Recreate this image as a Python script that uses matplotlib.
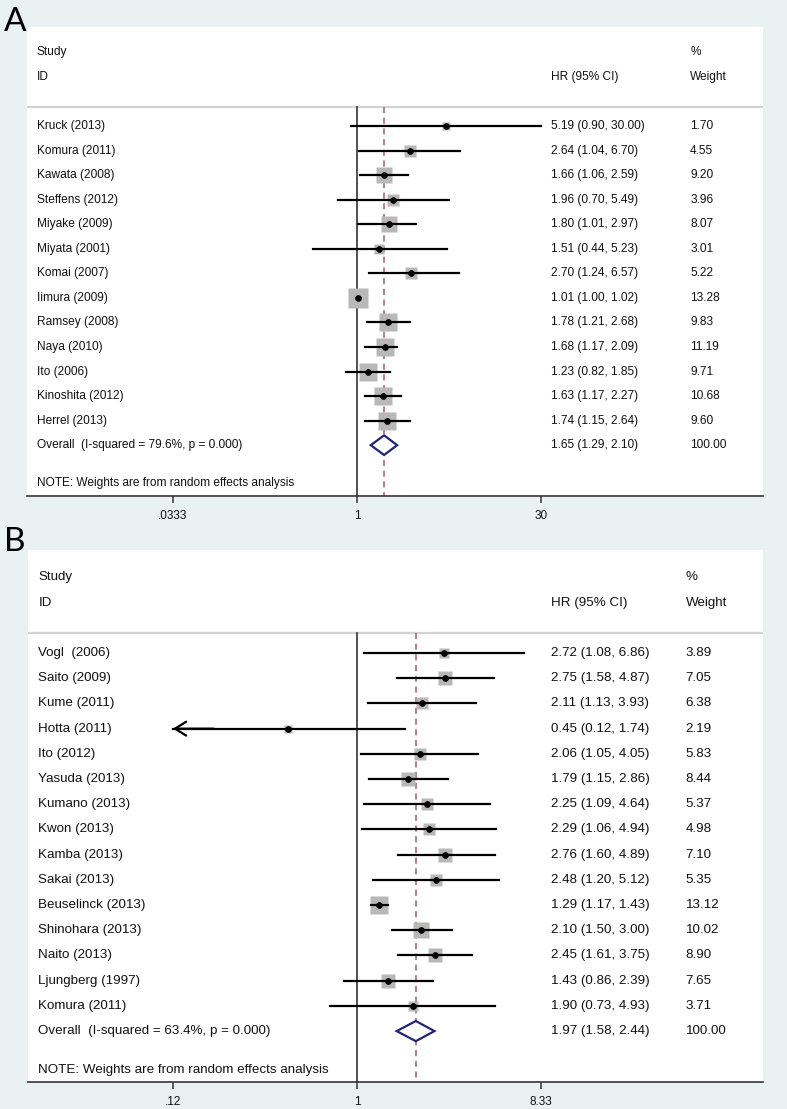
#!/usr/bin/env python3
"""Two stacked forest plots (HR with 95% CI, random effects weights)."""

import numpy as np
import matplotlib
matplotlib.use("Agg")
import matplotlib.pyplot as plt
from matplotlib.patches import Polygon
from matplotlib.transforms import blended_transform_factory

plt.rcParams['font.family'] = ['Liberation Sans', 'DejaVu Sans']

# ---- panel A data ----
studies_a = ["Kruck (2013)", "Komura (2011)", "Kawata (2008)", "Steffens (2012)",
             "Miyake (2009)", "Miyata (2001)", "Komai (2007)", "Iimura (2009)",
             "Ramsey (2008)", "Naya (2010)", "Ito (2006)", "Kinoshita (2012)",
             "Herrel (2013)"]
hr_a = [5.19, 2.64, 1.66, 1.96, 1.80, 1.51, 2.70, 1.01, 1.78, 1.68, 1.23, 1.63, 1.74]
lo_a = [0.90, 1.04, 1.06, 0.70, 1.01, 0.44, 1.24, 1.00, 1.21, 1.17, 0.82, 1.17, 1.15]
hi_a = [30.00, 6.70, 2.59, 5.49, 2.97, 5.23, 6.57, 1.02, 2.68, 2.09, 1.85, 2.27, 2.64]
w_a = [1.70, 4.55, 9.20, 3.96, 8.07, 3.01, 5.22, 13.28, 9.83, 11.19, 9.71, 10.68, 9.60]
overall_a = (1.65, 1.29, 2.10)
isq_a = "79.6%"
ticks_a = [1 / 30, 1, 30]
ticklabels_a = [".0333", "1", "30"]

# ---- panel B data ----
studies_b = ["Vogl  (2006)", "Saito (2009)", "Kume (2011)", "Hotta (2011)", "Ito (2012)",
             "Yasuda (2013)", "Kumano (2013)", "Kwon (2013)", "Kamba (2013)",
             "Sakai (2013)", "Beuselinck (2013)", "Shinohara (2013)", "Naito (2013)",
             "Ljungberg (1997)", "Komura (2011)"]
hr_b = [2.72, 2.75, 2.11, 0.45, 2.06, 1.79, 2.25, 2.29, 2.76, 2.48, 1.29, 2.10, 2.45, 1.43, 1.90]
lo_b = [1.08, 1.58, 1.13, 0.12, 1.05, 1.15, 1.09, 1.06, 1.60, 1.20, 1.17, 1.50, 1.61, 0.86, 0.73]
hi_b = [6.86, 4.87, 3.93, 1.74, 4.05, 2.86, 4.64, 4.94, 4.89, 5.12, 1.43, 3.00, 3.75, 2.39, 4.93]
w_b = [3.89, 7.05, 6.38, 2.19, 5.83, 8.44, 5.37, 4.98, 7.10, 5.35, 13.12, 10.02, 8.90, 7.65, 3.71]
overall_b = (1.97, 1.58, 2.44)
isq_b = "63.4%"
ticks_b = [0.12, 1, 8.33]
ticklabels_b = [".12", "1", "8.33"]

BG = '#e9f1f3'
TXT = '#111111'
W, H = 787, 1109


def forest(fig, box, ylim, studies, hr, lo, hi, w, overall, isq, ticks, ticklabels,
           fs, cols, box_scale):
    x0, y0, x1, y1 = box  # pixels, top-left origin
    ax = fig.add_axes([x0 / W, 1 - y1 / H, (x1 - x0) / W, (y1 - y0) / H])
    ax.set_facecolor('white')
    for s in ['top', 'left', 'right']:
        ax.spines[s].set_visible(False)
    ax.spines['bottom'].set_color('#333333')
    ax.spines['bottom'].set_linewidth(1.2)

    # log scale with 1 at x=357 px and the last tick at x=541 px
    ax.set_xscale('log')
    lr = np.log10(ticks[-1])
    ax.set_xlim(10 ** (-(357 - x0) / 184 * lr), 10 ** ((x1 - 357) / 184 * lr))
    ax.set_ylim(*ylim)
    ax.set_xticks(ticks)
    ax.set_xticklabels(ticklabels)
    ax.minorticks_off()
    ax.tick_params(axis='x', direction='out', length=5, width=1.1, color='#333333',
                   labelsize=8.5, pad=5, labelcolor=TXT)
    ax.set_yticks([])

    n = len(studies)
    rows = np.arange(n)
    row_ov = n
    row_note = n + 1.55
    sep = -0.78
    bottom = ylim[0]

    trans = blended_transform_factory(ax.transAxes, ax.transData)

    def put(x, y, s):
        ax.text(x, y, s, transform=trans, fontsize=fs, color=TXT, va='center')

    # header
    put(cols[0], -3, "Study")
    put(cols[0], -2, "ID")
    put(cols[1], -2, "HR (95% CI)")
    put(cols[2], -3, "%")
    put(cols[2], -2, "Weight")
    ax.axhline(sep, color='#d2d2d2', lw=1.6)

    # null line and overall dashed line
    ax.plot([1, 1], [sep, bottom], color='#333333', lw=1.2, zorder=2)
    ax.plot([overall[0]] * 2, [sep, bottom], color='#a65a63', lw=1.1,
            ls=(0, (4, 3)), zorder=2)

    xmin_tick = ticks[0]
    for i in rows:
        ax.plot(hr[i], i, marker='s', ms=box_scale * np.sqrt(w[i]), color='#b8b8b8',
                mec='none', zorder=3)
        if lo[i] <= xmin_tick:
            # CI runs past the axis range: clip it and draw an arrow head
            ax.plot([xmin_tick, hi[i]], [i, i], color='black', lw=1.6, zorder=4)
            ax.annotate('', xy=(xmin_tick, i), xytext=(xmin_tick * 1.6, i),
                        arrowprops=dict(arrowstyle='->,head_length=0.4,head_width=0.25',
                                        lw=1.6, color='black', shrinkA=0, shrinkB=0,
                                        mutation_scale=20), zorder=4)
        else:
            ax.plot([lo[i], hi[i]], [i, i], color='black', lw=1.6, zorder=4)
        ax.plot(hr[i], i, marker='o', ms=3.8, color='black', zorder=5)
        put(cols[0], i, studies[i])
        put(cols[1], i, f"{hr[i]:.2f} ({lo[i]:.2f}, {hi[i]:.2f})")
        put(cols[2], i, f"{w[i]:.2f}")

    # overall diamond
    est, olo, ohi = overall
    h = 0.4
    ax.add_patch(Polygon([(olo, row_ov), (est, row_ov - h), (ohi, row_ov), (est, row_ov + h)],
                         closed=True, facecolor='white', edgecolor='#1f2677', lw=1.6,
                         zorder=5))
    put(cols[0], row_ov, f"Overall  (I-squared = {isq}, p = 0.000)")
    put(cols[1], row_ov, f"{est:.2f} ({olo:.2f}, {ohi:.2f})")
    put(cols[2], row_ov, "100.00")
    put(cols[0], row_note, "NOTE: Weights are from random effects analysis")
    return ax


fig = plt.figure(figsize=(W / 100, H / 100), dpi=100)
fig.patch.set_facecolor(BG)

forest(fig, (27, 27, 763, 496), (15.07, -4.03), studies_a, hr_a, lo_a, hi_a, w_a,
       overall_a, isq_a, ticks_a, ticklabels_a, fs=8.6,
       cols=(0.013, 0.712, 0.901), box_scale=4.0)
forest(fig, (28, 550, 763, 1082), (17.02, -4.09), studies_b, hr_b, lo_b, hi_b, w_b,
       overall_b, isq_b, ticks_b, ticklabels_b, fs=9.6,
       cols=(0.014, 0.712, 0.895), box_scale=3.6)

fig.text(4 / W, 1 - 31 / H, "A", fontsize=24, family=['Lato', 'DejaVu Sans'],
         color='black', va='baseline')
fig.text(4 / W, 1 - 551 / H, "B", fontsize=24, family=['Lato', 'DejaVu Sans'],
         color='black', va='baseline')

fig.savefig("out.png", dpi=100, facecolor=fig.get_facecolor())
